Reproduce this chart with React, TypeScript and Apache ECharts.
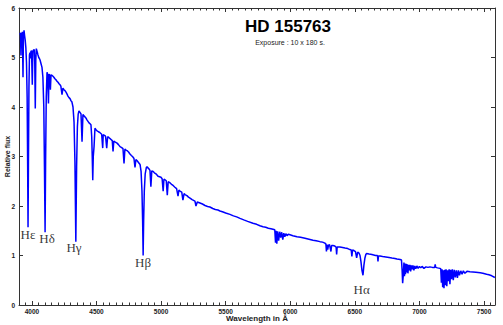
import React, { useEffect, useRef } from "react";
import * as echarts from "echarts";

// Spectrum of HD 155763: [wavelength (Å), relative flux]
const spectrum: [number, number][] = [
  [3908, 5.5], [3912, 5.45], [3915, 5.04], [3918, 5.5], [3922, 5.45], [3926, 5.52],
  [3931, 4.6], [3934, 5.4], [3939, 5.55], [3943, 5.45], [3948, 5.35], [3953, 5.2],
  [3958, 4.9], [3963, 4.2], [3967, 2.8], [3970, 1.57], [3973, 2.8], [3977, 4.4],
  [3981, 5.05], [3985, 5.1], [3988, 4.98], [3992, 5.12], [3997, 5.14], [4003, 4.45],
  [4007, 5.12], [4012, 5.15], [4018, 5.16], [4022, 4.9], [4026, 3.97], [4030, 4.95],
  [4034, 5.18], [4040, 5.12], [4047, 5.05], [4053, 5.0], [4058, 4.98], [4063, 4.95],
  [4070, 4.88], [4078, 4.8], [4085, 4.6], [4092, 4.0], [4097, 2.8], [4102, 1.47],
  [4106, 2.9], [4111, 4.2], [4117, 4.7], [4122, 4.66], [4128, 4.07], [4132, 4.66],
  [4138, 4.65], [4143, 4.35], [4148, 4.65], [4155, 4.64], [4163, 4.62], [4170, 4.6],
  [4178, 4.57], [4186, 4.55], [4194, 4.52], [4202, 4.5], [4210, 4.47], [4217, 4.45],
  [4224, 4.42], [4233, 4.25], [4240, 4.38], [4248, 4.35], [4256, 4.33], [4264, 4.3],
  [4272, 4.26], [4279, 4.22], [4287, 4.19], [4295, 4.17], [4302, 4.13], [4310, 4.1],
  [4318, 4.0], [4326, 3.7], [4333, 2.9], [4340, 1.28], [4346, 2.8], [4352, 3.6],
  [4358, 3.85], [4364, 3.92], [4372, 3.89], [4380, 3.86], [4388, 3.3], [4395, 3.85],
  [4403, 3.82], [4411, 3.8], [4418, 3.78], [4426, 3.74], [4434, 3.71], [4442, 3.68],
  [4450, 3.66], [4457, 3.64], [4463, 3.4], [4467, 3.0], [4471, 2.52], [4475, 3.0],
  [4481, 3.2], [4488, 3.57], [4496, 3.54], [4504, 3.52], [4515, 3.5], [4527, 3.48],
  [4540, 3.45], [4548, 3.17], [4552, 3.44], [4558, 3.43], [4570, 3.41], [4579, 3.17],
  [4586, 3.4], [4597, 3.38], [4610, 3.35], [4622, 3.32], [4628, 3.1], [4634, 3.31],
  [4646, 3.29], [4659, 3.27], [4670, 3.24], [4682, 3.2], [4695, 3.18], [4705, 3.16],
  [4713, 2.86], [4720, 3.15], [4728, 3.13], [4736, 3.12], [4748, 3.09], [4759, 3.05],
  [4770, 3.02], [4782, 2.99], [4790, 2.96], [4798, 2.78], [4805, 2.94], [4813, 2.92],
  [4825, 2.88], [4837, 2.84], [4845, 2.7], [4852, 2.3], [4857, 1.7], [4861, 1.0],
  [4865, 1.7], [4870, 2.3], [4877, 2.65], [4886, 2.78], [4891, 2.79], [4899, 2.77],
  [4906, 2.75], [4914, 2.72], [4921, 2.39], [4928, 2.71], [4937, 2.7], [4948, 2.67],
  [4960, 2.65], [4970, 2.62], [4976, 2.6], [4988, 2.59], [4999, 2.58], [5008, 2.55],
  [5016, 2.3], [5022, 2.54], [5030, 2.53], [5040, 2.51], [5048, 2.22], [5055, 2.49],
  [5061, 2.48], [5072, 2.46], [5084, 2.43], [5095, 2.41], [5107, 2.38], [5120, 2.35],
  [5131, 2.2], [5138, 2.32], [5146, 2.3], [5160, 2.28], [5169, 2.12], [5178, 2.25],
  [5185, 2.23], [5200, 2.21], [5212, 2.18], [5224, 2.16], [5240, 2.13], [5262, 2.1],
  [5270, 2.0], [5280, 2.08], [5301, 2.06], [5320, 2.04], [5340, 2.01], [5360, 1.99],
  [5378, 1.98], [5400, 1.95], [5420, 1.93], [5440, 1.92], [5456, 1.9], [5480, 1.88],
  [5500, 1.86], [5533, 1.83], [5560, 1.8], [5585, 1.78], [5611, 1.75], [5640, 1.72],
  [5670, 1.69], [5711, 1.65], [5740, 1.63], [5765, 1.6], [5789, 1.58], [5810, 1.57],
  [5830, 1.55], [5850, 1.54], [5866, 1.53], [5880, 1.52], [5886, 1.26], [5890, 1.5],
  [5896, 1.24], [5902, 1.49], [5910, 1.3], [5918, 1.48], [5926, 1.36], [5934, 1.47],
  [5942, 1.32], [5950, 1.45], [5958, 1.38], [5966, 1.44], [5975, 1.4], [5985, 1.43],
  [5998, 1.42], [6020, 1.4], [6052, 1.38], [6080, 1.37], [6114, 1.35], [6145, 1.33],
  [6176, 1.31], [6200, 1.3], [6230, 1.28], [6250, 1.27], [6268, 1.25], [6276, 1.23],
  [6280, 1.08], [6284, 1.22], [6290, 1.12], [6296, 1.21], [6304, 1.22], [6315, 1.08],
  [6320, 1.2], [6330, 1.2], [6345, 1.19], [6355, 1.17], [6359, 1.02], [6363, 1.17],
  [6384, 1.17], [6405, 1.16], [6424, 1.15], [6445, 1.14], [6462, 1.12], [6472, 1.11],
  [6477, 0.98], [6482, 1.11], [6493, 1.1], [6505, 1.08], [6514, 0.95], [6522, 1.07],
  [6532, 1.05], [6540, 1.0], [6547, 0.88], [6555, 0.7], [6563, 0.6], [6570, 0.8],
  [6578, 0.95], [6585, 1.02], [6591, 1.04], [6610, 1.03], [6632, 1.02], [6660, 1.0],
  [6675, 1.0], [6679, 0.88], [6683, 0.99], [6694, 0.99], [6715, 0.98], [6740, 0.97],
  [6765, 0.96], [6787, 0.95], [6810, 0.94], [6826, 0.93], [6850, 0.92], [6861, 0.91],
  [6866, 0.7], [6870, 0.44], [6875, 0.6], [6880, 0.86], [6884, 0.58], [6888, 0.84],
  [6892, 0.62], [6897, 0.83], [6901, 0.66], [6906, 0.82], [6911, 0.64], [6916, 0.81],
  [6921, 0.7], [6926, 0.81], [6932, 0.68], [6938, 0.8], [6944, 0.72], [6950, 0.8],
  [6957, 0.7], [6964, 0.79], [6972, 0.73], [6980, 0.79], [6990, 0.74], [7000, 0.78],
  [7010, 0.75], [7020, 0.78], [7035, 0.74], [7050, 0.77], [7066, 0.76], [7081, 0.77],
  [7100, 0.76], [7118, 0.76], [7122, 0.82], [7126, 0.76], [7140, 0.75], [7159, 0.74],
  [7165, 0.73], [7170, 0.45], [7175, 0.72], [7180, 0.36], [7186, 0.7], [7190, 0.34],
  [7196, 0.71], [7200, 0.4], [7206, 0.72], [7212, 0.38], [7218, 0.7], [7224, 0.48],
  [7230, 0.72], [7236, 0.42], [7242, 0.71], [7248, 0.52], [7255, 0.72], [7262, 0.5],
  [7270, 0.71], [7278, 0.56], [7286, 0.7], [7294, 0.55], [7302, 0.7], [7310, 0.6],
  [7320, 0.69], [7330, 0.62], [7340, 0.69], [7352, 0.64], [7368, 0.68], [7391, 0.67],
  [7437, 0.66], [7470, 0.65], [7491, 0.64], [7520, 0.62], [7538, 0.61], [7560, 0.59],
  [7584, 0.555],
];

// Balmer line annotations
const lineNames = ["Hε", "Hδ", "Hγ", "Hβ", "Hα"];
const lineLabelWavelength = [3970, 4117, 4326, 4860, 6553];
const lineLabelFlux = [1.425, 1.337, 1.16, 0.857, 0.32];

const xMin = 3900;
const xMax = 7585;
const yMin = 0;
const yMax = 6;

const titleText = "HD 155763";
const subtitleText = "Exposure : 10 x 180 s.";
const xName = "Wavelength in Å";
const yName = "Relative flux";

export default function App() {
  const ref = useRef<HTMLDivElement>(null);
  useEffect(() => {
    if (!ref.current) return;
    const chart = echarts.init(ref.current, null, { renderer: "svg" });
    const axisColor = "#333";
    const labelStyle = {
      fontFamily: "Liberation Sans",
      fontSize: 6.5,
      fontWeight: "bold" as const,
      color: "#222",
    };
    const xCommon = {
      type: "value" as const,
      min: xMin,
      max: xMax,
      splitNumber: 7,
      axisLine: { show: true, onZero: false, lineStyle: { color: axisColor, width: 1 } },
      axisTick: { show: true, inside: true, length: 4, lineStyle: { color: axisColor } },
      minorTick: { show: true, splitNumber: 10, length: 2.5, lineStyle: { color: axisColor } },
      splitLine: { show: false },
      minorSplitLine: { show: false },
    };
    const yCommon = {
      type: "value" as const,
      min: yMin,
      max: yMax,
      interval: 1,
      axisLine: { show: true, onZero: false, lineStyle: { color: axisColor, width: 1 } },
      axisTick: { show: true, inside: true, length: 4, lineStyle: { color: axisColor } },
      splitLine: { show: false },
    };
    chart.setOption({
      animation: false,
      backgroundColor: "#fff",
      grid: {
        left: 19,
        right: 8,
        top: 8,
        bottom: 20,
        containLabel: false,
        outerBoundsMode: "none",
      },
      xAxis: [
        {
          ...xCommon,
          position: "bottom",
          name: xName,
          nameLocation: "middle",
          nameGap: 9,
          nameMoveOverlap: false,
          nameTextStyle: { fontFamily: "Liberation Sans", fontSize: 8, fontWeight: "bold", color: "#222" },
          axisLabel: {
            ...labelStyle,
            margin: 3,
            showMinLabel: false,
            showMaxLabel: false,
            formatter: (v: number) => String(v),
          },
        },
        { ...xCommon, position: "top", axisLabel: { show: false } },
      ],
      yAxis: [
        {
          ...yCommon,
          position: "left",
          name: yName,
          nameLocation: "middle",
          nameRotate: 90,
          nameGap: 8,
          nameMoveOverlap: false,
          nameTextStyle: { fontFamily: "Liberation Sans", fontSize: 7, fontWeight: "bold", color: "#222" },
          axisLabel: { ...labelStyle, margin: 4 },
        },
        { ...yCommon, position: "right", axisLabel: { show: false } },
      ],
      graphic: [
        {
          type: "text",
          x: 288,
          y: 26,
          style: {
            text: titleText,
            fontFamily: "Liberation Sans",
            fontSize: 17,
            fontWeight: "bold",
            fill: "#000",
            align: "center",
            verticalAlign: "middle",
          },
        },
        {
          type: "text",
          x: 290,
          y: 42.5,
          style: {
            text: subtitleText,
            fontFamily: "Liberation Sans",
            fontSize: 7,
            fill: "#222",
            align: "center",
            verticalAlign: "middle",
          },
        },
      ],
      series: [
        {
          type: "line",
          data: spectrum,
          showSymbol: false,
          symbol: "none",
          xAxisIndex: 0,
          yAxisIndex: 0,
          lineStyle: { color: "#0000ff", width: 1.5 },
          silent: true,
        },
        {
          type: "scatter",
          xAxisIndex: 0,
          yAxisIndex: 0,
          symbolSize: 0,
          silent: true,
          data: lineNames.map((n, i) => ({ name: n, value: [lineLabelWavelength[i], lineLabelFlux[i]] })),
          label: {
            show: true,
            position: "inside",
            formatter: "{b}",
            fontFamily: "Liberation Serif",
            fontSize: 13,
            color: "#000",
          },
        },
      ],
    });
    return () => chart.dispose();
  }, []);
  return (
    <div
      ref={ref}
      style={{ position: "fixed", left: 0, top: 0, width: 503, height: 325 }}
    />
  );
}
